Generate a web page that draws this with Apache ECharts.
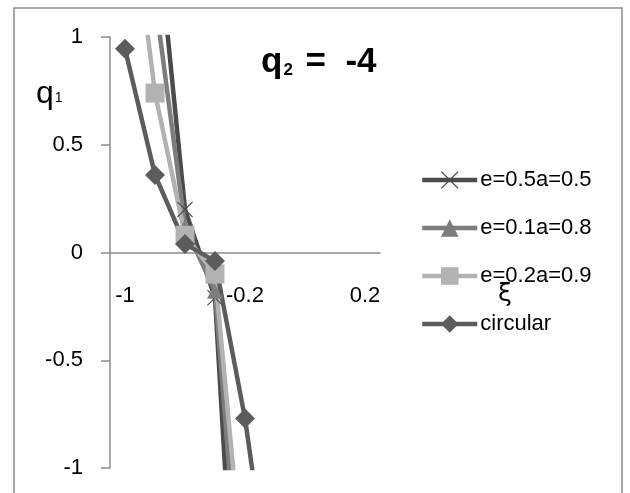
<!DOCTYPE html>
<html>
<head>
<meta charset="utf-8">
<script src="https://cdn.jsdelivr.net/npm/echarts@6/dist/echarts.min.js"></script>
<style>
  html, body { margin: 0; padding: 0; background: #fff; }
  #chart { width: 630px; height: 493px; }
</style>
</head>
<body>
<div id="chart"></div>
<script>
// 横轴分类（只显示第 1、5、9 个）
const xCategories = ['-1', '-0.8', '-0.6', '-0.4', '-0.2', '-0.1', '0', '0.1', '0.2'];

// 各曲线数据，超出 [-1, 1] 的点被裁掉
const seriesNames = ['e=0.5a=0.5', 'e=0.1a=0.8', 'e=0.2a=0.9', 'circular'];
const e05a05 = [null, 1.6, 0.20, -0.21, -2.57, null, null, null, null];
const e01a08 = [null, 1.18, 0.12, -0.18, -1.93, null, null, null, null];
const e02a09 = [1.85, 0.74, 0.08, -0.10, -1.59, null, null, null, null];
const circular = [0.945, 0.36, 0.04, -0.04, -0.77, -1.75, null, null, null];

const yTicks = [-1, -0.5, 0, 0.5, 1];

const colors = ['#4b4b4b', '#7d7d7d', '#b2b2b2', '#5c5c5c'];
const crossPath = 'path://M0,1L1,0L10,9L19,0L20,1L11,10L20,19L19,20L10,11L1,20L0,19L9,10Z';
const symbols = [crossPath, 'triangle', 'rect', 'diamond'];
const symbolSizes = [16, [16, 15], 19, 20];
const seriesData = [e05a05, e01a08, e02a09, circular];

const font = 'Liberation Sans, Arial, sans-serif';

function makeSeries(i) {
  return {
    name: seriesNames[i],
    type: 'line',
    data: seriesData[i],
    symbol: symbols[i],
    symbolSize: symbolSizes[i],
    showAllSymbol: true,
    connectNulls: false,
    clip: true,
    lineStyle: { color: colors[i], width: 4.5 },
    itemStyle: { color: colors[i] },
    emphasis: { disabled: true }
  };
}

const myChart = echarts.init(document.getElementById('chart'));
myChart.setOption({
  animation: false,
  backgroundColor: '#fff',
  color: colors,
  textStyle: { fontFamily: font },
  title: {
    text: '{a|q}{b|2}{a| =  -4}',
    left: 256,
    top: 40,
    textStyle: {
      rich: {
        a: { fontFamily: font, fontWeight: 'bold', fontSize: 35, color: '#000' },
        b: { fontFamily: font, fontWeight: 'bold', fontSize: 17, color: '#000', padding: [16, 3, 0, 1] }
      }
    }
  },
  graphic: [
    {
      type: 'rect',
      shape: { x: 14, y: 8, width: 608, height: 500 },
      style: { fill: 'none', stroke: '#8c8c8c', lineWidth: 1.5 },
      silent: true
    },
    {
      type: 'text',
      left: 36,
      top: 78,
      style: {
        text: '{q|q}{s|1}',
        rich: {
          q: { fontFamily: font, fontSize: 32, fill: '#000' },
          s: { fontFamily: font, fontSize: 14, fill: '#000', padding: [8, 0, 0, 1] }
        }
      }
    },
    {
      type: 'text',
      left: 498,
      top: 282,
      style: { text: 'ξ', fontFamily: 'DejaVu Sans', fontSize: 25, fill: '#000' }
    }
  ],
  legend: {
    orient: 'vertical',
    left: 420,
    top: 169,
    padding: 0,
    itemWidth: 55,
    itemHeight: 22,
    itemGap: 26,
    lineStyle: { width: 4.5 },
    textStyle: { fontFamily: font, fontSize: 22, color: '#000', lineHeight: 22, padding: [0, 0, 0, -2] },
    data: seriesNames
  },
  grid: { left: 110, top: 37, width: 270, height: 431, outerBoundsMode: 'none', containLabel: false },
  xAxis: {
    type: 'category',
    data: xCategories,
    boundaryGap: true,
    offset: -215,
    axisLine: { onZero: false, lineStyle: { color: '#8c8c8c', width: 1.5 } },
    axisTick: { interval: 3, length: 8, lineStyle: { color: '#8c8c8c', width: 1.5 } },
    axisLabel: { interval: 3, margin: 32, fontFamily: font, fontSize: 22, color: '#000' },
    splitLine: { show: false }
  },
  yAxis: {
    type: 'value',
    min: yTicks[0],
    max: yTicks[yTicks.length - 1],
    interval: 0.5,
    axisLine: { show: true, lineStyle: { color: '#8c8c8c', width: 1.5 } },
    axisTick: { show: true, length: 9, lineStyle: { color: '#8c8c8c', width: 1.5 } },
    axisLabel: { margin: 27, fontFamily: font, fontSize: 22, color: '#000' },
    splitLine: { show: false }
  },
  series: seriesNames.map((n, i) => makeSeries(i))
});
</script>
</body>
</html>
